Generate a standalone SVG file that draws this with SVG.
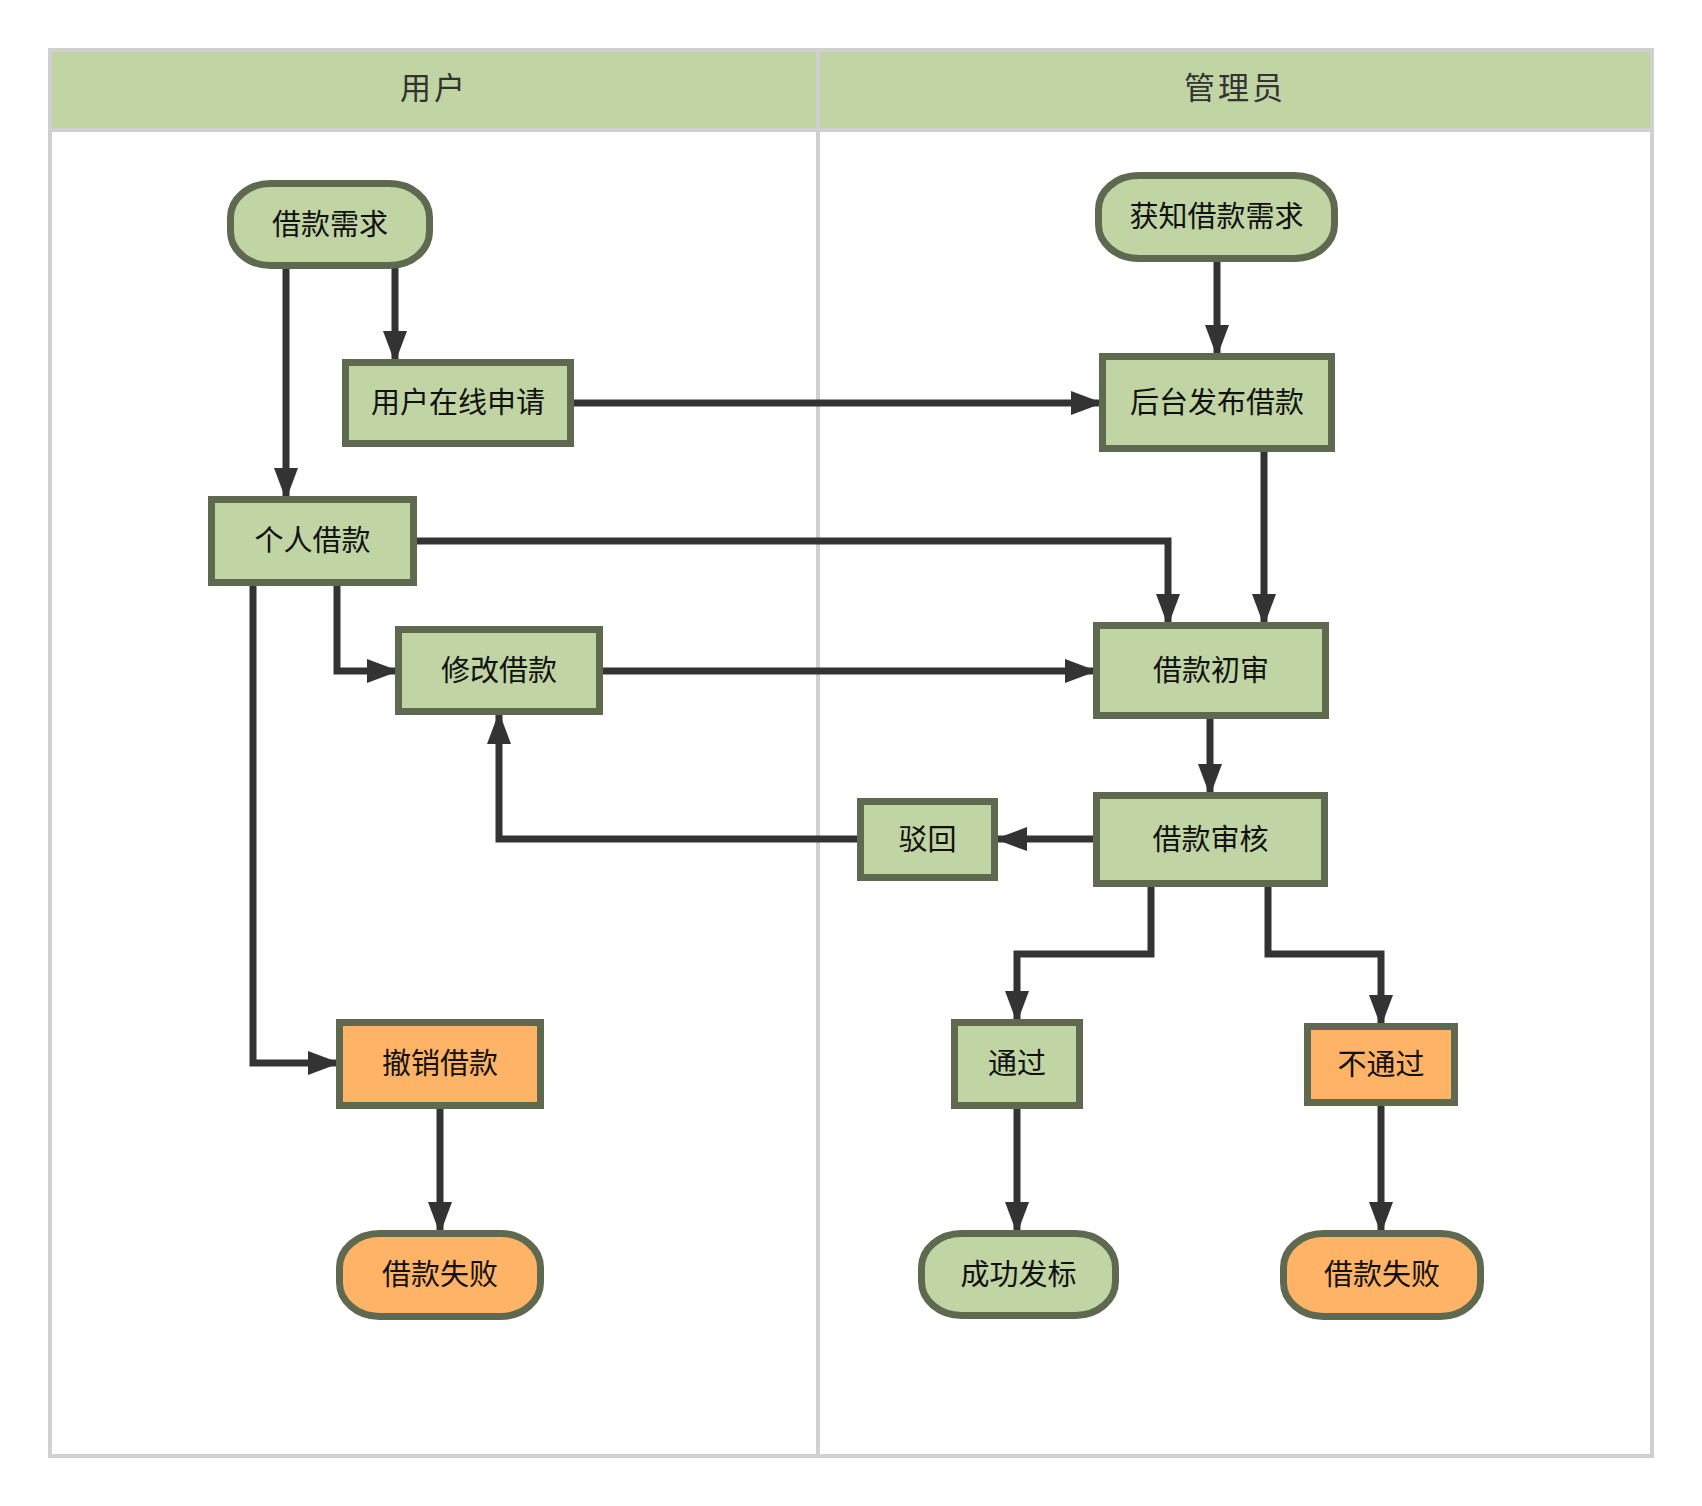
<svg xmlns="http://www.w3.org/2000/svg" width="1702" height="1506" viewBox="0 0 1702 1506">
  <style>
    .lane { fill: #ffffff; stroke: #d0d0d0; stroke-width: 4; }
    .band { fill: #c0d4a4; }
    .sep { stroke: #d0d0d0; stroke-width: 4; fill: none; }
    .head { font-family: "Noto Sans CJK SC", sans-serif; font-size: 31px; fill: #333333; text-anchor: middle; dominant-baseline: central; letter-spacing: 3px; }
    .node rect { stroke: #5f6950; stroke-width: 7; }
    .ok rect { fill: #c0d4a4; }
    .bad rect { fill: #ffb366; }
    .node text { font-family: "Noto Sans CJK SC", sans-serif; font-size: 29px; fill: #111111; text-anchor: middle; dominant-baseline: central; }
    .edge { fill: none; stroke: #333333; stroke-width: 7; stroke-linejoin: miter; }
  </style>
  <defs>
    <marker id="arrow" markerUnits="userSpaceOnUse" markerWidth="34" markerHeight="26" refX="32" refY="12" orient="auto">
      <path d="M0,0 L32,12 L0,24 Z" fill="#333333"/>
    </marker>
  </defs>

  <!-- swimlane frame -->
  <g id="lanes">
    <rect class="lane" x="50" y="50" width="1602" height="1406"/>
    <rect class="band" x="52" y="52" width="1598" height="77"/>
    <line class="sep" x1="50" y1="130" x2="1652" y2="130"/>
    <line class="sep" x1="818" y1="50" x2="818" y2="1456"/>
    <text class="head" x="434" y="85">用户</text>
    <text class="head" x="1235" y="85">管理员</text>
  </g>

  <!-- connectors -->
  <g id="connectors">
    <path class="edge" marker-end="url(#arrow)" d="M395,266 L395,363"/>
    <path class="edge" marker-end="url(#arrow)" d="M286,266 L286,500"/>
    <path class="edge" marker-end="url(#arrow)" d="M1217,259 L1217,357"/>
    <path class="edge" marker-end="url(#arrow)" d="M571,403 L1103,403"/>
    <path class="edge" marker-end="url(#arrow)" d="M1264,449 L1264,626"/>
    <path class="edge" marker-end="url(#arrow)" d="M414,541 L1168,541 L1168,626"/>
    <path class="edge" marker-end="url(#arrow)" d="M337,583 L337,671 L399,671"/>
    <path class="edge" marker-end="url(#arrow)" d="M253,583 L253,1063 L340,1063"/>
    <path class="edge" marker-end="url(#arrow)" d="M600,671 L1097,671"/>
    <path class="edge" marker-end="url(#arrow)" d="M1210,716 L1210,796"/>
    <path class="edge" marker-end="url(#arrow)" d="M1097,839 L995,839"/>
    <path class="edge" marker-end="url(#arrow)" d="M861,839 L499,839 L499,712"/>
    <path class="edge" marker-end="url(#arrow)" d="M1151,884 L1151,954 L1017,954 L1017,1023"/>
    <path class="edge" marker-end="url(#arrow)" d="M1268,884 L1268,954 L1381,954 L1381,1027"/>
    <path class="edge" marker-end="url(#arrow)" d="M1017,1106 L1017,1234"/>
    <path class="edge" marker-end="url(#arrow)" d="M1381,1103 L1381,1234"/>
    <path class="edge" marker-end="url(#arrow)" d="M440,1106 L440,1234"/>
  </g>

  <!-- user lane -->
  <g id="n-demand" class="node ok">
    <rect x="230.5" y="183.5" width="199" height="82" rx="40" ry="34"/>
    <text x="330" y="221.5">借款需求</text>
  </g>
  <g id="n-apply" class="node ok">
    <rect x="345.5" y="362.5" width="225" height="81"/>
    <text x="458" y="400">用户在线申请</text>
  </g>
  <g id="n-personal" class="node ok">
    <rect x="211.5" y="499.5" width="202" height="83"/>
    <text x="312.5" y="538">个人借款</text>
  </g>
  <g id="n-modify" class="node ok">
    <rect x="398.5" y="629.5" width="201" height="82"/>
    <text x="499" y="667.5">修改借款</text>
  </g>
  <g id="n-cancel" class="node bad">
    <rect x="339.5" y="1022.5" width="201" height="83"/>
    <text x="440" y="1061">撤销借款</text>
  </g>
  <g id="n-fail-user" class="node bad">
    <rect x="339.5" y="1233.5" width="201" height="83" rx="40" ry="34"/>
    <text x="440" y="1272">借款失败</text>
  </g>

  <!-- admin lane -->
  <g id="n-notice" class="node ok">
    <rect x="1098.5" y="175.5" width="236" height="83" rx="40" ry="34"/>
    <text x="1216.5" y="214">获知借款需求</text>
  </g>
  <g id="n-publish" class="node ok">
    <rect x="1102.5" y="356.5" width="229" height="92"/>
    <text x="1217" y="399.5">后台发布借款</text>
  </g>
  <g id="n-first" class="node ok">
    <rect x="1096.5" y="625.5" width="229" height="90"/>
    <text x="1211" y="667.5">借款初审</text>
  </g>
  <g id="n-review" class="node ok">
    <rect x="1096.5" y="795.5" width="228" height="88"/>
    <text x="1210.5" y="836.5">借款审核</text>
  </g>
  <g id="n-reject" class="node ok">
    <rect x="860.5" y="801.5" width="134" height="76"/>
    <text x="927.5" y="836.5">驳回</text>
  </g>
  <g id="n-pass" class="node ok">
    <rect x="954.5" y="1022.5" width="125" height="83"/>
    <text x="1017" y="1061">通过</text>
  </g>
  <g id="n-nopass" class="node bad">
    <rect x="1307.5" y="1026.5" width="147" height="76"/>
    <text x="1381" y="1061.5">不通过</text>
  </g>
  <g id="n-success" class="node ok">
    <rect x="921.5" y="1233.5" width="194" height="82" rx="40" ry="34"/>
    <text x="1018.5" y="1271.5">成功发标</text>
  </g>
  <g id="n-fail-admin" class="node bad">
    <rect x="1283.5" y="1233.5" width="197" height="83" rx="40" ry="34"/>
    <text x="1382" y="1272">借款失败</text>
  </g>
</svg>
